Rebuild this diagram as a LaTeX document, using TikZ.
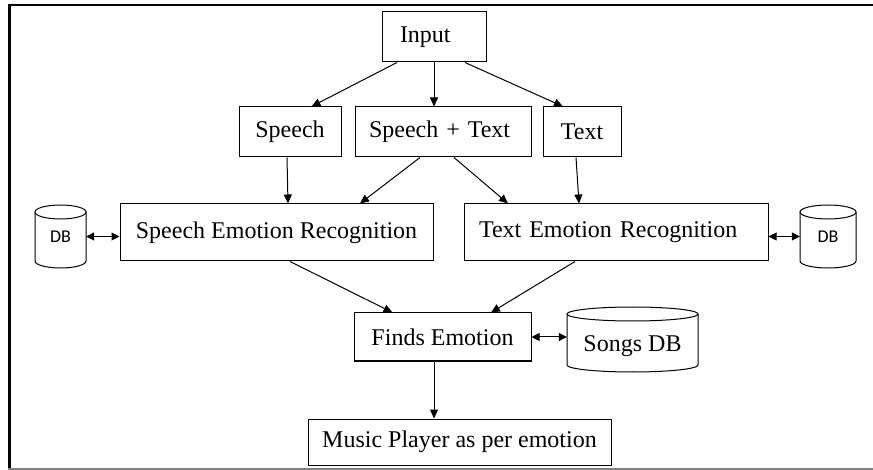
\documentclass[tikz,border=0pt]{standalone}
\usepackage{fontspec}
\setmainfont{Liberation Serif}
\newfontfamily\dbfont{Carlito}
\usetikzlibrary{arrows.meta}
\tikzset{
  box/.style={draw, line width=1pt, inner sep=0pt, font=\fontsize{24}{28}\selectfont},
  lbox/.style={box, align=left, inner xsep=#1},
  arr/.style={-{Triangle[length=9pt,width=8pt]}, line width=1pt},
  darr/.style={{Triangle[length=8pt,width=8pt]}-{Triangle[length=8pt,width=8pt]}, line width=1pt},
  cyl/.style={line width=1pt, fill=white},
  dbtext/.style={inner sep=0pt, font=\dbfont\fontsize{18}{20}\selectfont},
  songstext/.style={inner sep=0pt, font=\fontsize{24}{28}\selectfont}
}
\begin{document}
\begin{tikzpicture}[x=1pt,y=-1pt]
\useasboundingbox (0,0) rectangle (873,470);
% frame
\draw[line width=3pt] (9.5,4) -- (9.5,469);
\draw[line width=2.5pt] (8,5) -- (873,5);
\draw[gray, line width=2pt] (8,469) -- (873,469);

% boxes
\node[lbox=18pt, text width=68pt, minimum height=50pt] (input) at (434,37) {Input};
\node[box, minimum width=102pt, minimum height=50pt] (speech) at (290,132) {Speech};
\node[lbox=14pt, text width=148pt, minimum height=50pt] (spt) at (443,132) {Speech + Text};
\node[box, minimum width=78pt, minimum height=50pt] (text) at (582,132) {Text};
\node[box, minimum width=313pt, minimum height=57pt] (ser) at (276.5,232.5) {Speech Emotion Recognition};
\node[lbox=15pt, text width=274pt, minimum height=57pt] (ter) at (616,232.5) {Text Emotion Recognition};
\node[box, minimum width=177pt, minimum height=48pt] (finds) at (442.5,337) {Finds Emotion};
\node[box, minimum width=303pt, minimum height=46pt] (music) at (459.5,442) {Music Player as per emotion};

% cylinders
\draw[cyl] (35,212) -- (35,261) arc[start angle=180,end angle=0,x radius=25.5,y radius=7] -- (86,212);
\draw[cyl] (60.5,212) ellipse[x radius=25.5,y radius=7];
\node[dbtext, minimum width=51pt] (db1) at (60.5,236.5) {DB};

\draw[cyl] (800,212) -- (800,261) arc[start angle=180,end angle=0,x radius=28,y radius=7] -- (856,212);
\draw[cyl] (828,212) ellipse[x radius=28,y radius=7];
\node[dbtext, minimum width=56pt] (db2) at (828,236.5) {DB};

\draw[cyl] (567,314) -- (567,365) arc[start angle=180,end angle=0,x radius=65.5,y radius=7] -- (698,314);
\draw[cyl] (632.5,314) ellipse[x radius=65.5,y radius=7];
\node[songstext, minimum width=131pt] (songs) at (632.5,346) {Songs DB};

% connectors
\draw[arr] ([xshift=-37pt]input.south) -- ([xshift=21.5pt]speech.north);
\draw[arr] (input.south) -- (input.south |- spt.north);
\draw[arr] ([xshift=31pt]input.south) -- ([xshift=-19pt]text.north);
\draw[arr] ([xshift=-3pt]speech.south) -- ([xshift=11.5pt]ser.north);
\draw[arr] ([xshift=-23pt]spt.south) -- ([xshift=83.5pt]ser.north);
\draw[arr] ([xshift=11pt]spt.south) -- ([xshift=-108pt]ter.north);
\draw[arr] ([xshift=-6pt]text.south) -- ([xshift=-37pt]ter.north);
\draw[arr] ([xshift=13.5pt]ser.south) -- ([xshift=-50pt]finds.north);
\draw[arr] ([xshift=-41pt]ter.south) -- ([xshift=48.5pt]finds.north);
\draw[arr] ([xshift=-8.5pt]finds.south) -- ([xshift=-8.5pt]finds.south |- music.north);
\draw[darr] (db1.east) -- (db1.east -| ser.west);
\draw[darr] (ter.east |- db2.west) -- (db2.west);
\draw[darr] (finds.east) -- (finds.east -| songs.west);
\end{tikzpicture}
\end{document}
